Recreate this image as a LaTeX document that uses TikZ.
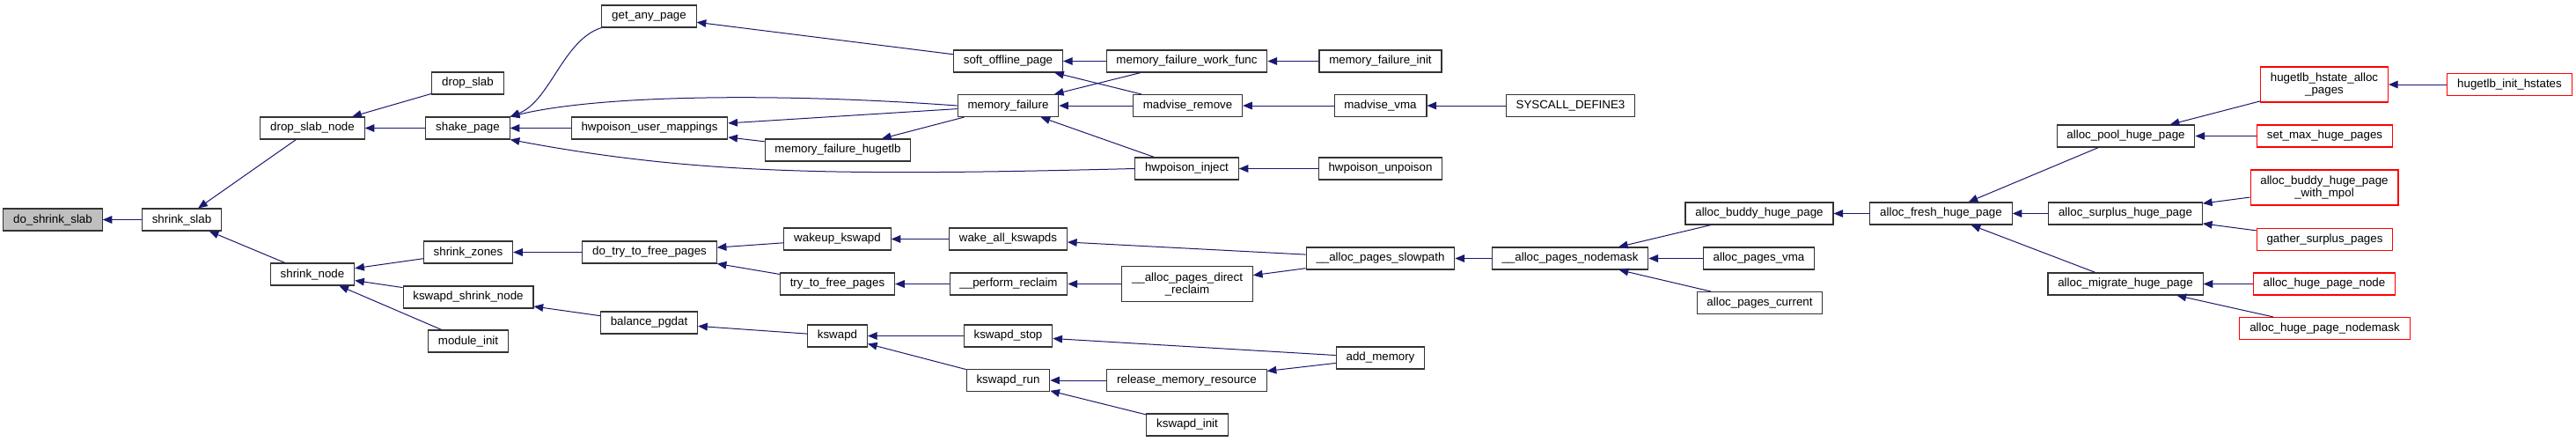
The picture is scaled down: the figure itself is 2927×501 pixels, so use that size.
\documentclass[tikz,border=0pt]{standalone}
\usepackage{fontspec}
\setmainfont{Liberation Sans}
\usepackage{tikz}
\usetikzlibrary{arrows.meta}
\usepackage{xcolor}
\definecolor{edgeblue}{RGB}{25,25,112}
\definecolor{rootgrey}{RGB}{191,191,191}

\begin{document}
\begin{tikzpicture}[x=0.75pt, y=-0.75pt,
    fn/.style={rectangle, draw=black!80, line width=0.8pt, fill=white,
        font=\fontsize{10}{10.5}\selectfont, align=center,
        minimum height=18.75pt, inner xsep=8.5pt, inner ysep=2.5pt},
    fnred/.style={fn, draw=red},
    fnroot/.style={fn, fill=rootgrey},
    twoline/.style={minimum height=30pt},
    arr/.style={-{Triangle[length=8pt,width=6.5pt]}, line width=0.75pt, edgeblue}
]
    \path[use as bounding box, fill=white] (0,0) rectangle (2927,501);

    % column 0-2
    \node[fnroot] (doshrinkslab) at (60,249.5) {do\_shrink\_slab};
    \node[fn] (shrinkslab) at (206.5,249.5) {shrink\_slab};
    \node[fn] (dropslabnode) at (355,145.5) {drop\_slab\_node};
    \node[fn] (shrinknode) at (355,311.5) {shrink\_node};

    % column 3
    \node[fn] (dropslab) at (531.5,94.5) {drop\_slab};
    \node[fn] (shakepage) at (531.5,145.5) {shake\_page};
    \node[fn] (shrinkzones) at (532,286.5) {shrink\_zones};
    \node[fn] (kswapdshrink) at (532,337.5) {kswapd\_shrink\_node};
    \node[fn] (moduleinit) at (532,387.5) {module\_init};

    % column 4
    \node[fn] (getanypage) at (737.5,18.5) {get\_any\_page};
    \node[fn] (hwpoisonmap) at (738,145.5) {hwpoison\_user\_mappings};
    \node[fn] (dotrytofree) at (738,286.5) {do\_try\_to\_free\_pages};
    \node[fn] (balancepgdat) at (737.5,366.5) {balance\_pgdat};

    % column 5
    \node[fn] (mfhugetlb) at (952,170.5) {memory\_failure\_hugetlb};
    \node[fn] (wakeupkswapd) at (951.5,271.5) {wakeup\_kswapd};
    \node[fn] (trytofree) at (951.5,322.5) {try\_to\_free\_pages};
    \node[fn] (kswapd) at (951.5,381.5) {kswapd};

    % column 6
    \node[fn] (softoffline) at (1145.5,69.5) {soft\_offline\_page};
    \node[fn] (memfailure) at (1145.5,120) {memory\_failure};
    \node[fn] (wakeallkswapds) at (1145.5,271.5) {wake\_all\_kswapds};
    \node[fn] (performreclaim) at (1146,322.5) {\_\_perform\_reclaim};
    \node[fn] (kswapdstop) at (1145.5,381.5) {kswapd\_stop};
    \node[fn] (kswapdrun) at (1145.5,432) {kswapd\_run};

    % column 7
    \node[fn] (mfworkfunc) at (1348.5,69.5) {memory\_failure\_work\_func};
    \node[fn] (madviseremove) at (1349.5,120) {madvise\_remove};
    \node[fn] (hwpoisoninject) at (1348.5,191.5) {hwpoison\_inject};
    \node[fn, twoline] (directreclaim) at (1349,322.5) {\_\_alloc\_pages\_direct\\\_reclaim};
    \node[fn] (releasememres) at (1348.5,432) {release\_memory\_resource};
    \node[fn] (kswapdinit) at (1349,482.5) {kswapd\_init};

    % column 8
    \node[fn] (mfinit) at (1568.5,69.5) {memory\_failure\_init};
    \node[fn] (madvisevma) at (1568.5,120) {madvise\_vma};
    \node[fn] (hwpoisonunpoison) at (1568.5,191.5) {hwpoison\_unpoison};
    \node[fn] (slowpath) at (1568.5,293.5) {\_\_alloc\_pages\_slowpath};
    \node[fn] (addmemory) at (1568.5,406.5) {add\_memory};

    % column 9-10
    \node[fn] (syscalldef) at (1784.5,120) {SYSCALL\_DEFINE3};
    \node[fn] (nodemask) at (1784,293.5) {\_\_alloc\_pages\_nodemask};
    \node[fn] (buddyhuge) at (1999,242.5) {alloc\_buddy\_huge\_page};
    \node[fn] (pagesvma) at (1998.5,293.5) {alloc\_pages\_vma};
    \node[fn] (pagescurrent) at (1999.5,344) {alloc\_pages\_current};

    % column 11-12
    \node[fn] (freshhuge) at (2205.5,242.5) {alloc\_fresh\_huge\_page};
    \node[fn] (poolhuge) at (2415.5,154.5) {alloc\_pool\_huge\_page};
    \node[fn] (surplushuge) at (2415,242.5) {alloc\_surplus\_huge\_page};
    \node[fn] (migratehuge) at (2415,322.5) {alloc\_migrate\_huge\_page};

    % column 13-14
    \node[fnred, twoline] (hstatealloc) at (2641,96) {hugetlb\_hstate\_alloc\\\_pages};
    \node[fnred] (setmaxhuge) at (2641.5,154.5) {set\_max\_huge\_pages};
    \node[fnred, twoline] (buddympol) at (2641,213) {alloc\_buddy\_huge\_page\\\_with\_mpol};
    \node[fnred] (gathersurplus) at (2641.5,272) {gather\_surplus\_pages};
    \node[fnred] (hugepagenode) at (2641,322.5) {alloc\_huge\_page\_node};
    \node[fnred] (hugepagenodemask) at (2641.5,373) {alloc\_huge\_page\_nodemask};
    \node[fnred] (inithstates) at (2851.5,96) {hugetlb\_init\_hstates};

    % callers -> callees
    \draw[arr] (shrinkslab) -- (doshrinkslab);
    \draw[arr] (dropslabnode) -- (shrinkslab);
    \draw[arr] (shrinknode) -- (shrinkslab);
    \draw[arr] (dropslab) -- (dropslabnode);
    \draw[arr] (shakepage) -- (dropslabnode);
    \draw[arr] (getanypage.south west) .. controls (640,45) and (625,115) .. (shakepage.north east);
    \draw[arr] (memfailure.west) .. controls (880,105) and (680,108) .. (shakepage.north east);
    \draw[arr] (hwpoisonmap) -- (shakepage);
    \draw[arr] (hwpoisoninject.west) .. controls (950,200) and (790,198) .. (shakepage.south east);
    \draw[arr] (softoffline) -- (getanypage);
    \draw[arr] (memfailure) -- (hwpoisonmap);
    \draw[arr] (mfhugetlb) -- (hwpoisonmap);
    \draw[arr] (memfailure) -- (mfhugetlb);
    \draw[arr] (mfworkfunc) -- (softoffline);
    \draw[arr] (madviseremove) -- (softoffline);
    \draw[arr] (mfworkfunc) -- (memfailure);
    \draw[arr] (madviseremove) -- (memfailure);
    \draw[arr] (hwpoisoninject) -- (memfailure);
    \draw[arr] (mfinit) -- (mfworkfunc);
    \draw[arr] (madvisevma) -- (madviseremove);
    \draw[arr] (syscalldef) -- (madvisevma);
    \draw[arr] (hwpoisonunpoison) -- (hwpoisoninject);

    \draw[arr] (shrinkzones) -- (shrinknode);
    \draw[arr] (kswapdshrink) -- (shrinknode);
    \draw[arr] (moduleinit) -- (shrinknode);
    \draw[arr] (dotrytofree) -- (shrinkzones);
    \draw[arr] (wakeupkswapd) -- (dotrytofree);
    \draw[arr] (trytofree) -- (dotrytofree);
    \draw[arr] (wakeallkswapds) -- (wakeupkswapd);
    \draw[arr] (performreclaim) -- (trytofree);
    \draw[arr] (slowpath) -- (wakeallkswapds);
    \draw[arr] (directreclaim) -- (performreclaim);
    \draw[arr] (slowpath) -- (directreclaim);
    \draw[arr] (nodemask) -- (slowpath);
    \draw[arr] (buddyhuge) -- (nodemask);
    \draw[arr] (pagesvma) -- (nodemask);
    \draw[arr] (pagescurrent) -- (nodemask);
    \draw[arr] (freshhuge) -- (buddyhuge);
    \draw[arr] (poolhuge) -- (freshhuge);
    \draw[arr] (surplushuge) -- (freshhuge);
    \draw[arr] (migratehuge) -- (freshhuge);
    \draw[arr] (hstatealloc) -- (poolhuge);
    \draw[arr] (setmaxhuge) -- (poolhuge);
    \draw[arr] (buddympol) -- (surplushuge);
    \draw[arr] (gathersurplus) -- (surplushuge);
    \draw[arr] (hugepagenode) -- (migratehuge);
    \draw[arr] (hugepagenodemask) -- (migratehuge);
    \draw[arr] (inithstates) -- (hstatealloc);

    \draw[arr] (balancepgdat) -- (kswapdshrink);
    \draw[arr] (kswapd) -- (balancepgdat);
    \draw[arr] (kswapdstop) -- (kswapd);
    \draw[arr] (kswapdrun) -- (kswapd);
    \draw[arr] (addmemory) -- (kswapdstop);
    \draw[arr] (releasememres) -- (kswapdrun);
    \draw[arr] (kswapdinit) -- (kswapdrun);
    \draw[arr] (addmemory) -- (releasememres);
\end{tikzpicture}
\end{document}
